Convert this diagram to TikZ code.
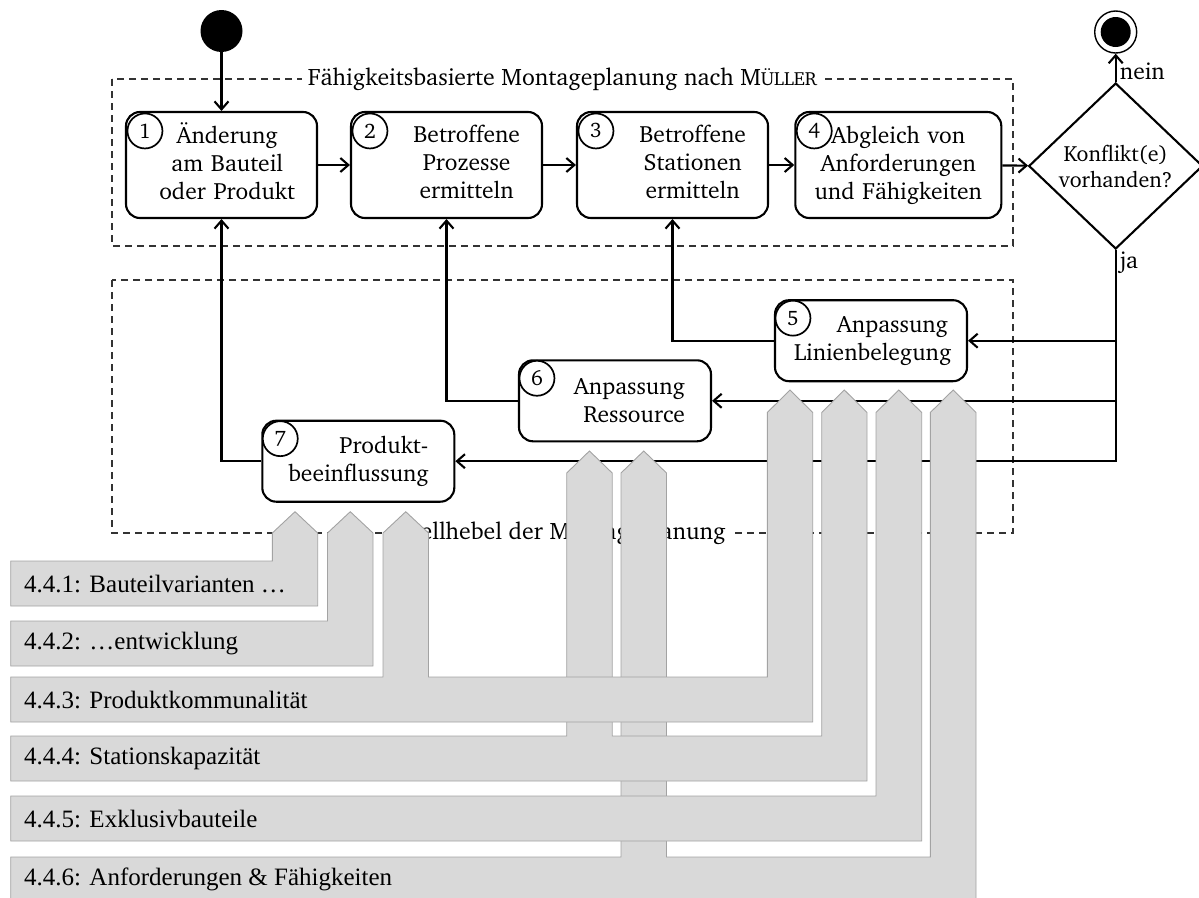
\documentclass[tikz,border=0pt]{standalone}
\usepackage[T1]{fontenc}
\usepackage{fontspec}
\setmainfont{Liberation Serif}
\usepackage{tikz}
\usetikzlibrary{positioning}
\usetikzlibrary{shapes.geometric}
\usetikzlibrary{arrows.meta}

\definecolor{levergray}{HTML}{D9D9D9}
\definecolor{leveredge}{HTML}{A3A3A3}
\newcommand{\charterfont}{\fontencoding{T1}\fontfamily{bch}\selectfont}

\begin{document}
\begin{tikzpicture}[
  x=1pt, y=-1pt,
  font=\charterfont\fontsize{23.5}{28}\selectfont,
  >={Straight Barb[length=8pt,width=14pt]},
  flow/.style={line width=2.1pt},
  planframe/.style={dash pattern=on 7pt off 5pt, line width=1.1pt, black!80},
  grouptitle/.style={fill=white, inner xsep=6pt, inner ysep=1pt, font=\charterfont\fontsize{23.8}{27}\selectfont},
  stepbox/.style={draw, line width=2.1pt, rounded corners=14pt, minimum width=191pt,
    minimum height=106pt, inner xsep=22pt, inner ysep=0pt, text width=147pt, align=right},
  leverbox/.style={draw, line width=2.1pt, rounded corners=14pt, minimum height=81pt,
    inner xsep=26pt, inner ysep=0pt, text width=140pt, align=right},
  num/.style={circle, draw, fill=white, line width=1.7pt, minimum size=35pt, inner sep=0pt,
    font=\charterfont\fontsize{21}{24}\selectfont},
  lever/.style={fill=levergray, draw=leveredge, line width=0.9pt},
  levertext/.style={anchor=west, inner sep=0pt, font=\normalfont\fontsize{25}{28}\selectfont}
]
\useasboundingbox (0,0) rectangle (1199,897);

% Planning frame
\draw[planframe] (112,79) rectangle (1013,246);
\node[grouptitle] (plantitle) at (562.5,79)
  {Fähigkeitsbasierte Montageplanung nach M{\fontsize{19}{20}\selectfont ÜLLER}};

% Lever frame
\draw[planframe] (112,280) rectangle (1013,533);
\node[grouptitle] (levertitle) at (562.5,533) {Stellhebel der Montageplanung};

% Start and end
\node[circle, fill, minimum size=42pt, inner sep=0pt] (startdot) at (221.5,31) {};
\node[circle, draw, line width=1.4pt, minimum size=42pt, inner sep=0pt] (enddot) at (1115.7,32) {};
\node[circle, fill, minimum size=30pt, inner sep=0pt] (endcore) at (enddot) {};

% Planning steps
\node[stepbox] (n1) at (221.5,165)
  {\begin{tabular}{@{}c@{}}Änderung\\am Bauteil\\oder Produkt\end{tabular}};
\node[stepbox] (n2) at (446.5,165)
  {\begin{tabular}{@{}c@{}}Betroffene\\Prozesse\\ermitteln\end{tabular}};
\node[stepbox] (n3) at (672.5,165)
  {\begin{tabular}{@{}c@{}}Betroffene\\Stationen\\ermitteln\end{tabular}};
\node[stepbox, minimum width=206pt, text width=176pt, inner xsep=15pt, align=center] (n4) at (898.3,165)
  {Abgleich von\\Anforderungen\\und Fähigkeiten};

\node[diamond, draw, line width=2.1pt, minimum width=174pt, minimum height=166pt,
  inner sep=0pt, align=center, font=\charterfont\fontsize{22}{26}\selectfont] (dec) at (1115.7,166)
  {Konflikt(e)\\vorhanden?};

% Levers
\node[leverbox, text width=154pt, inner xsep=19pt] (n5) at (871,340.7) {Anpassung\\Linienbelegung};
\node[leverbox] (n6) at (615,400.8) {Anpassung\\Ressource};
\node[leverbox] (n7) at (358.3,461.2) {Produkt-\\beeinflussung};

% Step numbers
\node[num] (k1) at ([shift={(20,20)}]n1.north west) {1};
\node[num] (k2) at ([shift={(20,20)}]n2.north west) {2};
\node[num] (k3) at ([shift={(20,20)}]n3.north west) {3};
\node[num] (k4) at ([shift={(20,20)}]n4.north west) {4};
\node[num] (k5) at ([shift={(19,19)}]n5.north west) {5};
\node[num] (k6) at ([shift={(19,19)}]n6.north west) {6};
\node[num] (k7) at ([shift={(19,19)}]n7.north west) {7};

% Main flow
\draw[flow, ->] (startdot) -- (n1);
\draw[flow, ->] (n1) -- (n2);
\draw[flow, ->] (n2) -- (n3);
\draw[flow, ->] (n3) -- (n4);
\draw[flow, ->] (n4) -- (dec);
\draw[flow, ->] (dec) -- (enddot);
\node[anchor=south west, inner xsep=4pt, inner ysep=2pt] (nein) at (dec.north) {nein};
\node[anchor=north west, inner xsep=4pt, inner ysep=2pt] (ja) at (dec.south) {ja};

% Feedback through the levers
\draw[flow, ->] (dec.south) |- (n5.east);
\draw[flow, ->] (dec.south) |- (n6.east);
\draw[flow, ->] (dec.south) |- (n7.east);
\draw[flow, ->] (n5.west) -| (n3.south);
\draw[flow, ->] (n6.west) -| (n2.south);
\draw[flow, ->] (n7.west) -| (n1.south);

% Chapter arrows, back to front
\draw[lever] (10.7,857) -- (621,857) -- (621,473) -- (643.75,451) -- (666.5,473) -- (666.5,857)
  -- (930.3,857) -- (930.3,412.5) -- (953.15,390) -- (976,412.5) -- (976,902) -- (10.7,902) -- cycle;
\node[levertext] (c6) at (24,879.5) {4.4.6: Anforderungen \& Fähigkeiten};

\draw[lever] (10.7,796) -- (876,796) -- (876,412.5) -- (898.85,390) -- (921.7,412.5)
  -- (921.7,841) -- (10.7,841) -- cycle;
\node[levertext] (c5) at (24,818.5) {4.4.5: Exklusivbauteile};

\draw[lever] (10.7,736) -- (566.7,736) -- (566.7,473) -- (589.45,451) -- (612.2,473) -- (612.2,736)
  -- (821.7,736) -- (821.7,412.5) -- (844.35,390) -- (867,412.5) -- (867,781) -- (10.7,781) -- cycle;
\node[levertext] (c4) at (24,758.5) {4.4.4: Stationskapazität};

\draw[lever] (10.7,677) -- (383,677) -- (383,533) -- (405.75,511.7) -- (428.5,533) -- (428.5,677)
  -- (767.3,677) -- (767.3,412.5) -- (790,390) -- (812.7,412.5) -- (812.7,722) -- (10.7,722) -- cycle;
\node[levertext] (c3) at (24,699.5) {4.4.3: Produktkommunalität};

\draw[lever] (10.7,621) -- (327.5,621) -- (327.5,533) -- (350.25,511.7) -- (373,533)
  -- (373,666) -- (10.7,666) -- cycle;
\node[levertext] (c2) at (24,643.5) {4.4.2: …entwicklung};

\draw[lever] (10.7,561) -- (272.3,561) -- (272.3,533) -- (295,511.7) -- (317.7,533)
  -- (317.7,606) -- (10.7,606) -- cycle;
\node[levertext] (c1) at (24,583.5) {4.4.1: Bauteilvarianten …};

\end{tikzpicture}
\end{document}
